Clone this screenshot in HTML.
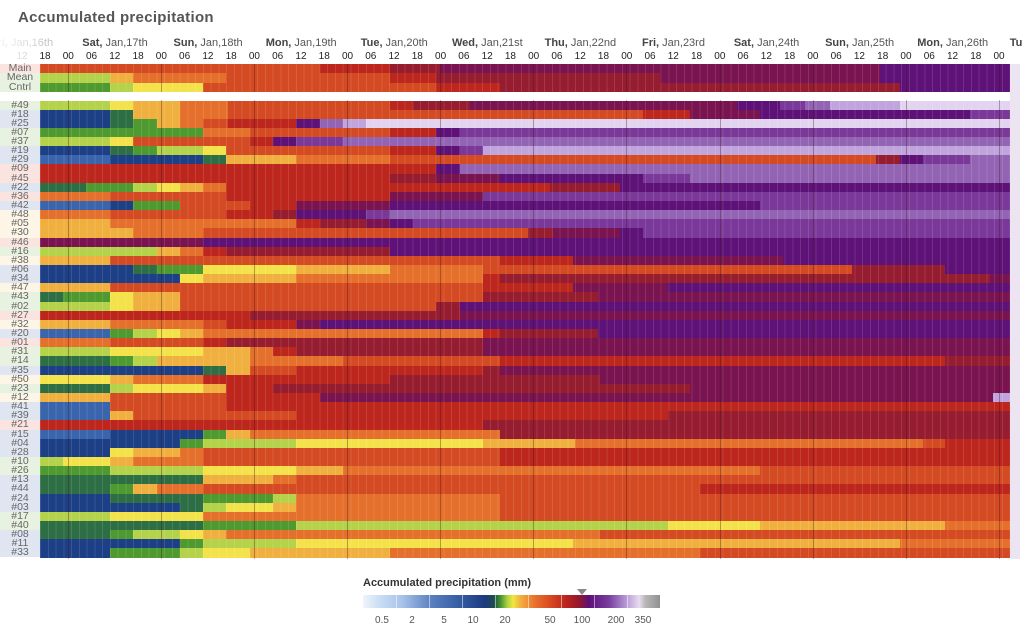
<!DOCTYPE html>
<html><head><meta charset="utf-8">
<style>
body{margin:0;background:#fff;width:1024px;height:636px;overflow:hidden;position:relative;font-family:"Liberation Sans",sans-serif;}
.a{position:absolute;white-space:nowrap;}
#title{left:18px;top:9px;font-size:15px;font-weight:bold;color:#555;letter-spacing:0.3px}
.day{font-size:11px;color:#555;top:37px;transform:translateX(-50%)}
.day b{color:#444}
.hr{font-size:10px;color:#222;top:51px;transform:translateX(-50%)}
.lab{font-size:10.5px;color:#666;left:0;width:40px;text-align:center;line-height:9px}
.cell{position:absolute}
</style></head><body>
<div class="a" id="title">Accumulated precipitation</div>
<div id="g"></div>
<div class="a" style="left:363px;top:577px;font-size:11px;font-weight:bold;color:#333">Accumulated precipitation (mm)</div>
<div class="a" style="left:363px;top:595px;width:297px;height:13px;background:linear-gradient(to right,#f0f4fa 0%,#c8dcf4 6%,#a8c4ea 13%,#5a80c0 23%,#3a62a8 31%,#1c3a80 41%,#1e4a50 44%,#3a8a30 46%,#a8d040 48.5%,#f0e840 50.5%,#f2b040 53%,#e8702c 58%,#d84a22 63%,#b8201c 69%,#901830 73%,#5c1078 76%,#7a40a0 83%,#b090d0 88%,#e8dcf0 93%,#b8b8b8 95%,#909090 100%)"></div>
<div class="a" style="left:577px;top:589px;width:0;height:0;border-left:5px solid transparent;border-right:5px solid transparent;border-top:6px solid #888"></div>
<div id="cb"></div>
<script>
(function(){
var C={B:'#1c3f86',b:'#3a65ad',l:'#9ab8e0',G:'#2e6e44',g:'#4e9a30',y:'#b4d24a',Y:'#f4e24a',o:'#f0b040',O:'#e4702c',r:'#d44a22',R:'#bc261c',d:'#961c30',m:'#7a1450',P:'#5e1278',p:'#7a3898',v:'#9464b4',L:'#c0a4dc',w:'#e2d4f0'};
var rows=[
['Main','r320R390d440m483m880P1010','#fbe4e0'],
['Mean','y110o133O226r390R436d660m880P1010','#e8f2e0'],
['Cntrl','g110y133Y203r436R500d900P1010','#e8f2e0'],
null,
['#49','y110Y133o180O228r390R413d470m737P780p805v830L900w1010','#e8f2e0'],
['#18','B110G133o180O228r643R690m760P970p1010','#dfe6f2'],
['#25','B110G133g157o180O203r228R296P320v343L366w1010','#dfe6f2'],
['#07','g203O250r390R436P460p1010','#e8f2e0'],
['#37','y110Y133r250R273P296p343v1010','#e8f2e0'],
['#19','B110G133g157y203Y226r390R436P460p483L1010','#dfe6f2'],
['#29','b110B203G226o296O390r876d900P923p970v1010','#dfe6f2'],
['#09','R436P460v1010','#fbe4e0'],
['#45','R390d436m500P643p690v1010','#fbe4e0'],
['#22','G86g133y157Y180o203O226R550d620P1010','#dfe6f2'],
['#36','O110r226R390m483p1010','#fbe4e0'],
['#42','b110B133g180r250R296m390P760p1010','#dfe6f2'],
['#48','O110r226R273d296P366p390v1010','#fdf6e6'],
['#05','o110O296R320d366m390P413p1010','#fdf6e6'],
['#30','o110o133O203r528d553m620P643p1010','#fdf6e6'],
['#46','m203P1010','#fbe4e0'],
['#16','y157o180O203R226d390P1010','#e8f2e0'],
['#38','o110r500R573m783P1010','#fdf6e6'],
['#06','B133G157g203Y296o390O483r852d945P1010','#dfe6f2'],
['#34','B180Y203o296O483R500d990m1010','#dfe6f2'],
['#47','o110r483R573m668P1010','#fdf6e6'],
['#43','G63g110Y133o180r483d598m1010','#e8f2e0'],
['#02','y110Y133o180r436d460P1010','#e8f2e0'],
['#27','R250d460m1010','#fbe4e0'],
['#32','o110O203r226R296m320P1010','#fdf6e6'],
['#20','b110g133y157Y180o203O483R500d598P1010','#dfe6f2'],
['#01','O110r203R226d483m1010','#fbe4e0'],
['#31','y110Y203o250O273R296d483m1010','#e8f2e0'],
['#14','G110g133y157o250O343r500R945d1010','#e8f2e0'],
['#35','B203G226o250r296R483d500m1010','#dfe6f2'],
['#50','Y110o133O203R390d600m1010','#fdf6e6'],
['#23','G110y133Y203o226R273d690m1010','#e8f2e0'],
['#12','o110r226R320m993L1010','#fdf6e6'],
['#41','b110r226R1010','#dfe6f2'],
['#39','b110o133r296R668d1010','#dfe6f2'],
['#21','R483d1010','#fbe4e0'],
['#15','b110B203g226o250O500d1010','#dfe6f2'],
['#04','B180g203y296Y483o575O923r945R1010','#dfe6f2'],
['#28','B110Y133o180O203r500R1010','#dfe6f2'],
['#10','y63Y110o133O203r500R1010','#e8f2e0'],
['#26','g110y203Y296o343O760r1010','#e8f2e0'],
['#13','G203o273O296r1010','#dfe6f2'],
['#44','G110g133o157O203r700R1010','#dfe6f2'],
['#24','B110G203g273y296O500r1010','#dfe6f2'],
['#03','B180G203y226Y273o296O500r1010','#dfe6f2'],
['#17','y110Y203O500r1010','#e8f2e0'],
['#40','G203g296y668Y760o945O1010','#e8f2e0'],
['#08','G110g133y180Y203o226O600r1010','#dfe6f2'],
['#11','B180g203y296Y573o900O1010','#dfe6f2'],
['#33','B110g180y203Y250o390O700r1010','#dfe6f2']
];
var h='';
var mi=0;
for(var i=0;i<rows.length;i++){
 var r=rows[i]; if(!r){continue;}
 var ty,ht;
 if(i<3){ty=63.5+i*9.5;ht=9.5;}else{ty=100.5+mi*9.14;ht=9.14;mi++;}
 h+='<div class="cell" style="left:0;top:'+ty+'px;width:40px;height:'+ht+'px;background:'+r[2]+'"></div>';
 h+='<div class="a lab" style="top:'+ty+'px;height:'+ht+'px;line-height:'+ht+'px">'+r[0]+'</div>';
 var re=/([A-Za-z])(\d+)/g,m,x=40;
 while((m=re.exec(r[1]))){var e=+m[2];h+='<div class="cell" style="left:'+x+'px;top:'+ty+'px;width:'+(e-x+0.5)+'px;height:'+(ht+0.3)+'px;background:'+C[m[1]]+'"></div>';x=e;}
}
h+='<div class="cell" style="left:40px;top:63.5px;width:970px;height:495px;background:repeating-linear-gradient(to right,rgba(255,255,255,0.12) 0,rgba(255,255,255,0.12) 1px,transparent 1px,transparent 7.757px)"></div>';
for(var k=0;k<11;k++){var dx=68+93.08*k;h+='<div class="cell" style="left:'+dx+'px;top:63.5px;width:1px;height:495px;background:rgba(60,20,30,0.35)"></div>';}
h+='<div class="cell" style="left:40px;top:92px;width:970px;height:8px;background:#fff"></div>';
h+='<div class="cell" style="left:1010px;top:63.5px;width:10px;height:495px;background:#ede4f2"></div>';
var days=[['Fri','Jan,16th'],['Sat','Jan,17th'],['Sun','Jan,18th'],['Mon','Jan,19th'],['Tue','Jan,20th'],['Wed','Jan,21st'],['Thu','Jan,22nd'],['Fri','Jan,23rd'],['Sat','Jan,24th'],['Sun','Jan,25th'],['Mon','Jan,26th']];
for(var k=0;k<days.length;k++){var cx=115+93.08*(k-1);h+='<div class="a day" style="left:'+cx+'px;'+(k==0?'opacity:0.35;':'')+'"><b>'+days[k][0]+',</b> '+days[k][1]+'</div>';}
h+='<div class="a day" style="left:1016px;"><b>Tu</b></div>';
h+='<div class="a hr" style="left:22px;color:#bbb">12</div>';
var hs=['18','00','06','12'];
for(var i=0;i<42;i++){h+='<div class="a hr" style="left:'+(45+23.27*i)+'px">'+hs[i%4]+'</div>';}
h+='<div class="cell" style="left:0;top:36px;width:40px;height:26px;background:linear-gradient(to right,rgba(255,255,255,0.85),rgba(255,255,255,0.2))"></div>';
document.getElementById('g').innerHTML=h;
var t=[['0.5',382],['2',412],['5',444],['10',473],['20',505],['50',550],['100',582],['200',616],['350',643]],s='';
for(var i=0;i<t.length;i++)s+='<div class="a" style="left:'+t[i][1]+'px;top:615px;font-size:10px;color:#555;transform:translateX(-50%)">'+t[i][0]+'</div>';
for(var i=1;i<9;i++)s+='<div class="a" style="left:'+(363+i*33)+'px;top:595px;width:1px;height:13px;background:rgba(255,255,255,0.5)"></div>';
document.getElementById('cb').innerHTML=s;
})();
</script>
</body></html>
